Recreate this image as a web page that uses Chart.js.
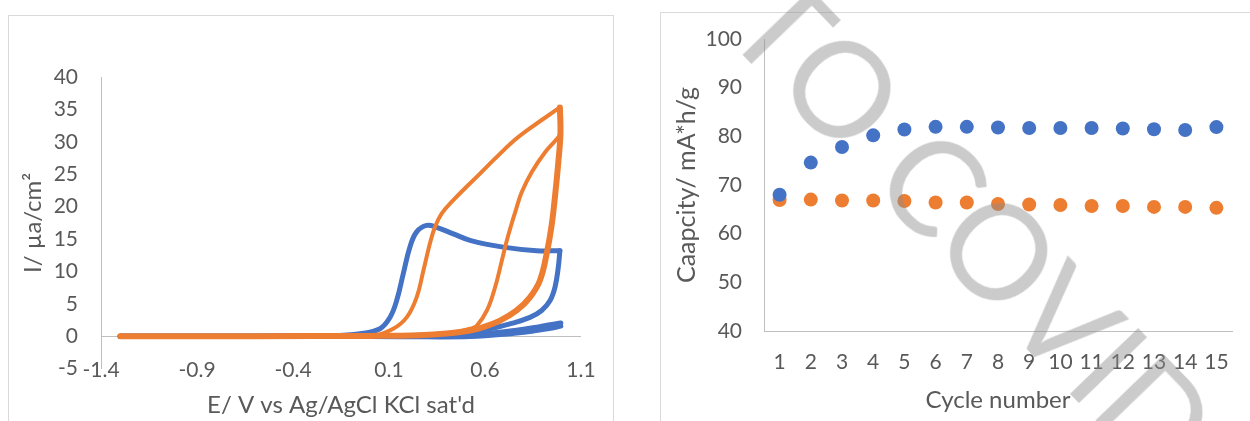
<!DOCTYPE html>
<html>
<head>
<meta charset="utf-8">
<script src="https://cdn.jsdelivr.net/npm/chart.js@4.4.1/dist/chart.umd.min.js"></script>
<style>
  body { margin: 0; background: #fff; width: 1250px; height: 421px; overflow: hidden; position: relative; font-family: Lato, sans-serif; }
  .box { position: absolute; border: 1px solid #d9d9d9; background: #fff; }
  canvas { position: absolute; top: 0; }
  #mark {
    position: absolute; left: 804px; top: -50px;
    font: 400 132px Lato, sans-serif; line-height: 1; white-space: pre;
    color: rgba(140, 140, 140, 0.45);
    transform: rotate(46deg); transform-origin: 0 0;
    pointer-events: none;
  }
</style>
</head>
<body>
<div class="box" style="left:8px; top:15px; width:604px; height:420px;"></div>
<div class="box" style="left:660px; top:12px; width:600px; height:420px;"></div>
<canvas id="cvChart" width="630" height="421" style="left:0"></canvas>
<canvas id="capChart" width="620" height="421" style="left:630px"></canvas>
<div id="mark">TO COVID</div>
<script>
// ---- CV chart data (E in V, I in µA/cm²) ----
const xTicks = [-1.4, -0.9, -0.4, 0.1, 0.6, 1.1];

// orange, first sweep: rise and top line up to the 1.0 V corner
const orangeOutE = [-1.3, -0.6, -0.2, 0.018, 0.122, 0.192, 0.244, 0.279, 0.313, 0.339, 0.374, 0.435, 0.574, 0.652, 0.74, 0.826, 0.99];
const orangeOutI = [0, 0.01, 0.03, 0.1, 1.15, 2.9, 6.0, 10.1, 14.3, 16.8, 18.9, 21.0, 25.1, 27.4, 29.9, 31.9, 35.3];
// orange, from the corner back down (thick branch)
const orangeBackE = [0.99, 0.993, 0.982, 0.965, 0.947, 0.921, 0.886, 0.834, 0.765, 0.678, 0.591, 0.522, 0.4, 0.26, 0.0, -0.6, -1.3];
const orangeBackI = [35.3, 31.3, 26.9, 21.7, 17.1, 12.7, 8.6, 6.0, 3.97, 2.4, 1.4, 0.88, 0.4, 0.15, 0.05, 0.01, 0];
// orange, second sweep (thin branch)
const orangeRiseE = [0.35, 0.45, 0.523, 0.558, 0.610, 0.653, 0.688, 0.714, 0.739, 0.76, 0.791, 0.843, 0.913, 0.982, 0.993];
const orangeRiseI = [0.3, 0.65, 1.15, 1.65, 3.97, 7.6, 11.7, 14.8, 17.4, 19.4, 22.2, 25.3, 28.4, 30.7, 31.3];

// blue, oxidation peak up to the 1.0 V corner
const bluePeakE = [-1.3, -0.6, -0.2, -0.051, 0.053, 0.105, 0.14, 0.174, 0.209, 0.244, 0.296, 0.348, 0.435, 0.522, 0.695, 0.869, 0.99];
const bluePeakI = [0, 0.01, 0.05, 0.37, 1.15, 2.9, 5.5, 9.6, 13.75, 16.1, 17.1, 16.8, 15.8, 14.8, 13.75, 13.2, 13.2];
// blue, from the corner back down
const blueBackE = [0.99, 0.982, 0.965, 0.939, 0.895, 0.834, 0.730, 0.626, 0.522, 0.3, 0.0, -0.6, -1.3];
const blueBackI = [13.2, 10.7, 7.6, 5.5, 3.97, 2.9, 1.9, 1.15, 0.77, 0.2, 0.05, 0.01, 0];
// blue, low-current sweep near the baseline
const blueLowOutE = [-1.3, 0.0, 0.3, 0.522, 0.7, 0.85, 0.95, 0.995];
const blueLowOutI = [0, -0.05, -0.1, -0.05, 0.3, 0.8, 1.25, 1.55];
const blueLowBackE = [0.995, 0.93, 0.87, 0.7, 0.522, 0.3, 0.0, -1.3];
const blueLowBackI = [2.05, 1.75, 1.4, 0.7, 0.3, 0.05, 0, 0];

// ---- capacity chart data ----
const cycles = ['1','2','3','4','5','6','7','8','9','10','11','12','13','14','15'];
const capBlue = [68.0, 74.6, 77.8, 80.2, 81.4, 81.95, 81.95, 81.8, 81.7, 81.7, 81.7, 81.6, 81.45, 81.3, 81.9];
const capOrange = [66.9, 67.0, 66.8, 66.8, 66.7, 66.4, 66.4, 66.1, 66.0, 65.9, 65.7, 65.7, 65.5, 65.5, 65.3];

const BLUE = '#4472C4';
const ORANGE = '#ED7D31';
const TEXT = '#595959';
const AXIS = '#bfbfbf';

Chart.defaults.font.family = 'Lato, sans-serif';
Chart.defaults.color = TEXT;

function pts(xs, ys) {
  return xs.map((x, i) => ({ x: x, y: ys[i] }));
}

function trace(xs, ys, color, width) {
  return {
    data: pts(xs, ys),
    showLine: true,
    borderColor: color,
    backgroundColor: color,
    borderWidth: width,
    pointRadius: 0,
    tension: 0.4,
    borderCapStyle: 'round',
    borderJoinStyle: 'round'
  };
}

new Chart(document.getElementById('cvChart'), {
  type: 'scatter',
  data: {
    datasets: [
      trace(orangeRiseE, orangeRiseI, ORANGE, 4),
      trace(orangeBackE, orangeBackI, ORANGE, 6),
      trace(orangeOutE, orangeOutI, ORANGE, 4),
      trace(bluePeakE, bluePeakI, BLUE, 5),
      trace(blueBackE, blueBackI, BLUE, 5),
      trace(blueLowOutE, blueLowOutI, BLUE, 5),
      trace(blueLowBackE, blueLowBackI, BLUE, 5)
    ]
  },
  options: {
    responsive: false,
    animation: false,
    devicePixelRatio: 1,
    layout: { padding: { top: 77, right: 49, left: 0, bottom: 52.4 } },
    plugins: { legend: { display: false }, tooltip: { enabled: false } },
    scales: {
      x: {
        type: 'linear',
        position: { y: -5 },   // labels sit level with the -5 tick, like Excel's "low" labels
        min: -1.4, max: 1.1,
        afterBuildTicks: s => { s.ticks = xTicks.map(v => ({ value: v })); },
        afterFit: s => { s.height = 52.4; },
        ticks: { font: { size: 21 }, padding: -11, callback: v => String(v) },
        grid: { display: false, drawTicks: false },
        border: { display: false },
        title: { display: true, text: "E/ V vs Ag/AgCl KCl sat'd", font: { size: 24 }, padding: { top: 0, bottom: 1 } }
      },
      y: {
        min: -5, max: 40,
        ticks: { stepSize: 5, font: { size: 21 }, padding: 23 },
        afterFit: s => { s.width = 101; },
        grid: { drawTicks: false, color: c => (c.tick && c.tick.value === 0 ? AXIS : 'rgba(0,0,0,0)') },
        border: { display: true, color: AXIS, width: 1 },
        title: { display: true, text: 'I/ µa/cm²', font: { size: 24 }, padding: { top: 19, bottom: 0 } }
      }
    }
  }
});

new Chart(document.getElementById('capChart'), {
  type: 'line',
  data: {
    labels: cycles,
    datasets: [
      { data: capBlue, showLine: false, pointRadius: 7, pointBorderWidth: 0, backgroundColor: BLUE, borderColor: BLUE },
      { data: capOrange, showLine: false, pointRadius: 7, pointBorderWidth: 0, backgroundColor: ORANGE, borderColor: ORANGE }
    ]
  },
  options: {
    responsive: false,
    animation: false,
    devicePixelRatio: 1,
    layout: { padding: { top: 39, right: 18, left: 0, bottom: 0 } },
    plugins: { legend: { display: false }, tooltip: { enabled: false } },
    scales: {
      x: {
        offset: true,
        afterFit: s => { s.height = 90; },
        ticks: { font: { size: 21 }, padding: 11, maxRotation: 0, autoSkip: false },
        grid: { display: false },
        border: { display: true, color: AXIS, width: 1 },
        title: { display: true, text: 'Cycle number', font: { size: 24 }, padding: { top: 0, bottom: 6 } }
      },
      y: {
        min: 40, max: 100,
        ticks: { stepSize: 10, font: { size: 21 }, padding: 22 },
        afterFit: s => { s.width = 134; },
        grid: { display: false, drawTicks: false },
        border: { display: true, color: AXIS, width: 1 },
        title: { display: true, text: 'Caapcity/ mA*h/g', font: { size: 25 }, padding: { top: 42, bottom: 0 } }
      }
    }
  }
});
</script>
</body>
</html>
